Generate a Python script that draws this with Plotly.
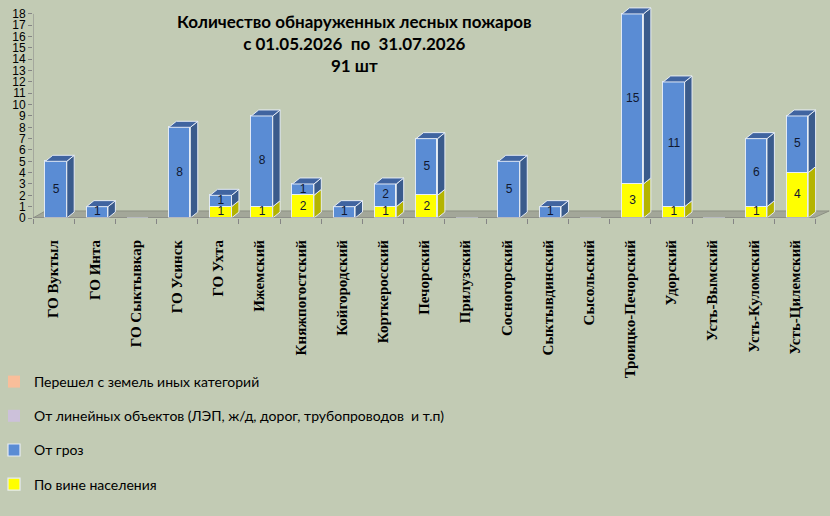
import plotly.graph_objects as go

# Districts of the Komi Republic
categories = ["ГО Вуктыл", "ГО Инта", "ГО Сыктывкар", "ГО Усинск", "ГО Ухта",
              "Ижемский", "Княжпогостский", "Койгородский", "Корткеросский",
              "Печорский", "Прилузский", "Сосногорский", "Сыктывдинский",
              "Сысольский", "Троицко-Печорский", "Удорский", "Усть-Вымский",
              "Усть-Куломский", "Усть-Цилемский"]

population = [0, 0, 0, 0, 1, 1, 2, 0, 1, 2, 0, 0, 0, 0, 3, 1, 0, 1, 4]
thunder = [5, 1, 0, 8, 1, 8, 1, 1, 2, 5, 0, 5, 1, 0, 15, 11, 0, 6, 5]
linear_obj = [0] * 19
other_land = [0] * 19

names = ["По вине населения", "От гроз",
         "От линейных объектов (ЛЭП, ж/д, дорог, трубопроводов  и т.п)",
         "Перешел с земель иных категорий"]

# face colours: front, side, top
colors = {"pop": ("#FFFF00", "#B4B400", "#D6D600"),
          "thu": ("#5A8CD4", "#3A5B8C", "#4064A0"),
          "lin": ("#CCC1DA", "#9A90A8", "#B0A6BE"),
          "oth": ("#F9BE9A", "#C08A6A", "#D8A080")}

W = 0.52     # bar width
OFF = 0.06   # shift of the front face
DX = 0.18    # depth in x units
DY = 0.53    # depth in y units
edge = "rgba(232,238,248,0.95)"

bg = "#C2CBB4"
x = list(range(len(categories)))

fig = go.Figure()

series = [("pop", population, names[0]), ("thu", thunder, names[1]),
          ("lin", linear_obj, names[2]), ("oth", other_land, names[3])]
for rank, (key, vals, nm) in enumerate(series):
    fig.add_trace(go.Bar(
        x=x, y=vals, name=nm, width=W, offset=-W / 2 + OFF,
        marker=dict(color=colors[key][0],
                    line=dict(color=edge, width=1.2 if any(vals) else 0)),
        legendgroup=key, legendrank=100 - rank, hoverinfo="skip"))

# 3D side and top faces, built from the same arrays
bases = [0] * len(categories)
tops_key = [None] * len(categories)
side_paths = {k: ([], []) for k, _, _ in series}
lab_x, lab_y, lab_t = [], [], []
for key, vals, _ in series:
    for i, v in enumerate(vals):
        if v == 0:
            continue
        y0, y1 = bases[i], bases[i] + v
        x1 = i + OFF + W / 2
        sx, sy = side_paths[key]
        sx += [x1, x1 + DX, x1 + DX, x1, x1, None]
        sy += [y0, y0 + DY, y1 + DY, y1, y0, None]
        lab_x.append(i + OFF)
        lab_y.append((y0 + y1) / 2)
        lab_t.append(str(v))
        bases[i] = y1
        tops_key[i] = key

for key, _, _ in series:
    sx, sy = side_paths[key]
    if not sx:
        continue
    fig.add_trace(go.Scatter(x=sx, y=sy, mode="lines", fill="toself",
                             fillcolor=colors[key][1],
                             line=dict(color=edge, width=1),
                             showlegend=False, hoverinfo="skip"))

for key, _, _ in series:
    tx, ty = [], []
    for i, k in enumerate(tops_key):
        if k != key:
            continue
        x0, x1, y1 = i + OFF - W / 2, i + OFF + W / 2, bases[i]
        tx += [x0, x0 + DX, x1 + DX, x1, x0, None]
        ty += [y1, y1 + DY, y1 + DY, y1, y1, None]
    if tx:
        fig.add_trace(go.Scatter(x=tx, y=ty, mode="lines", fill="toself",
                                 fillcolor=colors[key][2],
                                 line=dict(color=edge, width=1),
                                 showlegend=False, hoverinfo="skip"))

fig.add_trace(go.Scatter(x=lab_x, y=lab_y, text=lab_t, mode="text",
                         textfont=dict(family="Liberation Sans", size=12, color="#101830"),
                         showlegend=False, hoverinfo="skip", cliponaxis=False))

# floor and axis lines
n = len(categories)
fig.add_shape(type="path", xref="x", yref="y", layer="below",
              path=f"M {-0.5} 0 L {n - 0.55} 0 L {n - 0.55 + 0.38} 0.62 L {-0.5 + 0.3} 0.62 Z",
              fillcolor="#A3A799", line=dict(color="#8C9083", width=1))
fig.add_shape(type="line", xref="x", yref="y", x0=-0.5, x1=-0.5, y0=0, y1=18,
              line=dict(color="#858585", width=1))
fig.add_shape(type="line", xref="x", yref="y", x0=-0.5, x1=n - 0.55, y0=0, y1=0,
              line=dict(color="#858585", width=1))

fig.add_annotation(text="Количество обнаруженных лесных пожаров<br>с 01.05.2026  по  31.07.2026<br>91 шт",
                   xref="paper", yref="paper", x=0.404, y=0.822, showarrow=False,
                   xanchor="center", yanchor="middle", align="center",
                   font=dict(family="Lato", size=17, color="#000000", weight="bold"))

fig.update_layout(
    width=830, height=516, barmode="stack", bargap=0,
    paper_bgcolor=bg, plot_bgcolor=bg,
    margin=dict(l=33, r=0, t=6, b=298, autoexpand=False),
    legend=dict(xref="paper", yref="container", x=-39 / 797, y=1 - 366 / 516,
                xanchor="left", yanchor="top", traceorder="grouped",
                tracegroupgap=13, bgcolor="rgba(0,0,0,0)",
                font=dict(family="Lato", size=14, color="#000000")),
    font=dict(family="Liberation Sans", size=12, color="#000000"),
)
fig.update_xaxes(range=[-0.5, 18.85], tickmode="array", tickvals=x, ticktext=categories,
                 tickangle=-90, ticks="", showgrid=False, zeroline=False, showline=False,
                 ticklabelstandoff=18, automargin=False,
                 tickfont=dict(family="Liberation Serif", size=15, color="#000000", weight="bold"),
                 minor=dict(tickmode="array", tickvals=[i - 0.5 for i in range(n + 1)],
                            ticks="outside", ticklen=5, tickcolor="#858585", showgrid=False))
fig.update_yaxes(range=[0, 18.7], tickmode="array", tickvals=list(range(19)),
                 ticks="outside", ticklen=4, tickcolor="#858585", showgrid=False,
                 zeroline=False, showline=False, automargin=False,
                 tickfont=dict(family="Liberation Sans", size=12, color="#000000"))

fig.write_html("out.html", config={"displayModeBar": False},
               post_script="document.body.style.margin='0px';")
